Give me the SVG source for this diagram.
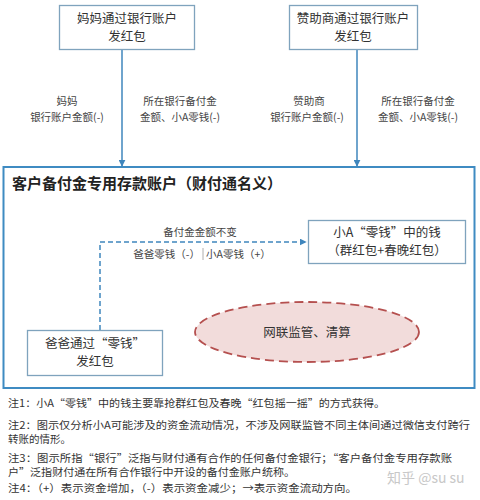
<svg xmlns="http://www.w3.org/2000/svg" width="480" height="500" viewBox="0 0 480 500">
<style>
text{font-family:"Noto Sans CJK SC","Liberation Sans",sans-serif;fill:#333}
.box{fill:#fff;stroke:#7fa3bd;stroke-width:1.3}
.bt{font-size:12.5px;text-anchor:middle}
.lb{font-size:10.5px;text-anchor:middle;fill:#444}
.note{font-size:10.5px;fill:#333}
.arr{stroke:#3f86bd;stroke-width:1.5;fill:none}
</style>
<defs>
<marker id="ah" viewBox="0 0 10 10" refX="9" refY="5" markerWidth="7" markerHeight="7" orient="auto" markerUnits="userSpaceOnUse">
<path d="M0,0 L10,5 L0,10 z" fill="#3f86bd"/>
</marker>
</defs>
<rect x="0" y="0" width="480" height="500" fill="#fff"/>
<g id="account">
<rect x="3.5" y="167" width="471" height="221" fill="none" stroke="#3f8bc2" stroke-width="2"/>
<text x="12" y="189" style="font-size:15px;font-weight:bold;fill:#222">客户备付金专用存款账户（财付通名义）</text>
</g>
<g id="connectors">
<line class="arr" x1="122" y1="50" x2="122" y2="166" marker-end="url(#ah)"/>
<line class="arr" x1="357" y1="50" x2="357" y2="166" marker-end="url(#ah)"/>
<path class="arr" d="M100,330 V242 H306" stroke-dasharray="5,3" stroke="#5a8fb8" marker-end="url(#ah)"/>
<text class="lb" x="67" y="105">妈妈</text>
<text class="lb" x="67" y="121">银行账户金额(-)</text>
<text class="lb" x="180" y="105">所在银行备付金</text>
<text class="lb" x="180" y="121">金额、小A零钱(-)</text>
<text class="lb" x="309" y="105">赞助商</text>
<text class="lb" x="307" y="121">银行账户金额(-)</text>
<text class="lb" x="418" y="105">所在银行备付金</text>
<text class="lb" x="418" y="121">金额、小A零钱(-)</text>
<text class="lb" x="200" y="236">备付金金额不变</text>
<text class="lb" x="200" y="258" style="text-anchor:end">爸爸零钱（-）</text>
<line x1="203" y1="248" x2="203" y2="260" stroke="#999" stroke-width="0.8"/>
<text class="lb" x="206" y="258" style="text-anchor:start">小A零钱（+）</text>
</g>
<g id="mom">
<rect class="box" x="59.5" y="5.5" width="135" height="44"/>
<text class="bt" x="127" y="23">妈妈通过银行账户</text>
<text class="bt" x="127" y="41">发红包</text>
</g>
<g id="sponsor">
<rect class="box" x="289.5" y="5.5" width="128" height="44"/>
<text class="bt" x="353" y="23">赞助商通过银行账户</text>
<text class="bt" x="353" y="41">发红包</text>
</g>
<g id="xiaoa">
<rect class="box" x="308.5" y="220.5" width="157" height="43"/>
<text class="bt" x="387" y="237">小A“零钱”中的钱</text>
<text class="bt" x="387" y="255">（群红包+春晚红包）</text>
</g>
<g id="dad">
<rect class="box" x="27.5" y="330.5" width="135" height="45"/>
<text class="bt" x="95" y="348">爸爸通过“零钱”</text>
<text class="bt" x="95" y="366">发红包</text>
</g>
<g id="wanglian">
<ellipse cx="307" cy="332" rx="112" ry="30" fill="#f2dcdb" stroke="#b5504f" stroke-width="1.8" stroke-dasharray="9,5"/>
<text class="bt" x="307" y="337">网联监管、清算</text>
</g>
<g id="notes">
<text class="note" x="8" y="407" textLength="377" lengthAdjust="spacingAndGlyphs">注1：小A“零钱”中的钱主要靠抢群红包及春晚“红包摇一摇”的方式获得。</text>
<text class="note" x="8" y="429" textLength="462" lengthAdjust="spacingAndGlyphs">注2：图示仅分析小A可能涉及的资金流动情况，不涉及网联监管不同主体间通过微信支付跨行</text>
<text class="note" x="8" y="443">转账的情形。</text>
<text class="note" x="8" y="462" textLength="444" lengthAdjust="spacingAndGlyphs">注3：图示所指“银行”泛指与财付通有合作的任何备付金银行；“客户备付金专用存款账</text>
<text class="note" x="8" y="476" textLength="287" lengthAdjust="spacingAndGlyphs">户”泛指财付通在所有合作银行中开设的备付金账户统称。</text>
<text class="note" x="8" y="492" textLength="349" lengthAdjust="spacingAndGlyphs">注4：（+）表示资金增加，（-）表示资金减少；→表示资金流动方向。</text>
<text x="387" y="483" style="font-size:14px;fill:#c8c8c8">知乎 @su su</text>
</g>
</svg>
